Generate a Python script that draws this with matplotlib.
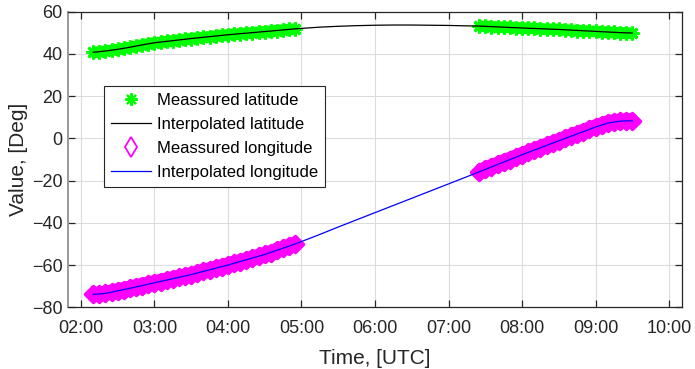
import numpy as np
import matplotlib
matplotlib.use("Agg")
import matplotlib.pyplot as plt
from matplotlib.lines import Line2D
from matplotlib.markers import MarkerStyle
from matplotlib.ticker import FuncFormatter, MultipleLocator

plt.rcParams['font.family'] = ['Liberation Sans', 'DejaVu Sans']

# ---- data (times in hours UTC) ----
seg1_start, seg1_step = 2 + 10/60, 5/60
seg2_start, seg2_step = 7 + 25/60, 5/60

lat_meas_1 = [40.7, 41.0, 41.3, 41.7, 42.1, 42.6, 43.1, 43.6, 44.2, 44.7,
              45.2, 45.5, 45.9, 46.2, 46.6, 46.9, 47.2, 47.5, 47.8, 48.1,
              48.4, 48.7, 49.0, 49.3, 49.5, 49.8, 50.0, 50.3, 50.5, 50.8,
              51.0, 51.3, 51.5, 51.8]
lon_meas_1 = [-73.9, -73.8, -73.4, -72.8, -72.2, -71.6, -71.0, -70.3, -69.7, -69.0,
              -68.4, -67.8, -67.1, -66.5, -65.8, -65.2, -64.5, -63.8, -63.0, -62.3,
              -61.5, -60.8, -60.0, -59.2, -58.4, -57.6, -56.7, -55.9, -55.0, -54.1,
              -53.1, -52.1, -51.1, -50.0]
lat_meas_2 = [53.1, 53.0, 52.9, 52.7, 52.6, 52.5, 52.4, 52.2, 52.1, 52.0,
              51.9, 51.7, 51.6, 51.5, 51.3, 51.2, 51.0, 50.9, 50.7, 50.6,
              50.4, 50.3, 50.1, 50.0, 49.9, 49.8]
lon_meas_2 = [-15.9, -14.7, -13.5, -12.4, -11.2, -10.1, -8.9, -7.8, -6.7, -5.6,
              -4.5, -3.4, -2.3, -1.2, -0.1, 1.0, 2.1, 3.2, 4.3, 5.3,
              6.3, 7.2, 7.8, 8.1, 8.2, 8.3]

interp_time_hm = ["02:10", "02:20", "02:30", "02:40", "02:50", "03:00", "03:30", "04:00",
                  "04:30", "04:55", "05:15", "05:30", "05:45", "06:00", "06:15", "06:30",
                  "06:45", "07:00", "07:15", "07:25", "08:00", "08:30", "09:00", "09:10",
                  "09:20", "09:30"]
lat_interp = [40.7, 41.3, 42.1, 43.1, 44.2, 45.2, 47.2, 49.0,
              50.5, 51.8, 52.6, 53.0, 53.3, 53.5, 53.6, 53.6,
              53.5, 53.4, 53.2, 53.1, 52.2, 51.5, 50.6, 50.3,
              50.0, 49.8]
lon_interp = [-73.9, -73.4, -72.2, -71.0, -69.7, -68.4, -64.5, -60.0,
              -55.0, -50.0, -45.5, -42.0, -38.6, -35.2, -31.8, -28.4,
              -25.0, -21.6, -18.2, -15.9, -7.8, -1.2, 5.3, 7.2,
              8.1, 8.3]

t1 = seg1_start + seg1_step * np.arange(len(lat_meas_1))
t2 = seg2_start + seg2_step * np.arange(len(lat_meas_2))
ti = np.array([int(s[:2]) + int(s[3:]) / 60 for s in interp_time_hm])

# ---- figure ----
fig = plt.figure(figsize=(6.95, 3.69), dpi=100)
ax = fig.add_axes([68/695, 1 - 307.3/369, 614/695, 295.8/369])

green = '#00ff00'
mag = '#ff00ff'
ast = (8, 2, 0)
dia = MarkerStyle('D', joinstyle='round')

for t, v in ((t1, lat_meas_1), (t2, lat_meas_2)):
    ax.plot(t, v, color=green, linewidth=8, solid_capstyle='butt', zorder=3)
    ax.plot(t, v, linestyle='none', marker=ast, color=green, markersize=10,
            markeredgewidth=2.0, zorder=3)
for t, v in ((t1, lon_meas_1), (t2, lon_meas_2)):
    ax.plot(t, v, color=mag, linewidth=11, solid_capstyle='butt', zorder=3)
    ax.plot(t, v, linestyle='none', marker=dia, markerfacecolor=mag,
            markeredgecolor=mag, markersize=8, markeredgewidth=2.5, zorder=3)
ax.plot(ti, lat_interp, color='black', linewidth=0.9, zorder=4)
ax.plot(ti, lon_interp, color='blue', linewidth=0.9, zorder=4)

ax.set_xlim(1 + 49.4/60, 10 + 10.6/60)
ax.set_ylim(-80, 60)
ax.xaxis.set_major_locator(MultipleLocator(1))
ax.yaxis.set_major_locator(MultipleLocator(20))
ax.xaxis.set_major_formatter(FuncFormatter(lambda x, p: f"{int(round(x)):02d}:00"))
ax.grid(True, color='#dcdcdc', linewidth=0.8)
ax.set_axisbelow(True)
ax.tick_params(direction='in', length=5, width=0.9, top=True, right=True,
               labelsize=13, labelcolor='#262626', colors='#262626', pad=4)
ax.tick_params(axis='x', pad=9)
for s in ('top', 'right', 'bottom'):
    ax.spines[s].set_color('#262626')
    ax.spines[s].set_linewidth(0.9)
ax.spines['left'].set_color('#999999')
ax.spines['left'].set_linewidth(1.4)

ax.set_xlabel('Time, [UTC]', fontsize=15, color='#262626', labelpad=9)
ax.set_ylabel('Value, [Deg]', fontsize=15, color='#262626', labelpad=3)

handles = [
    Line2D([], [], linestyle='none', marker=ast, color=green, markersize=9, markeredgewidth=1.5),
    Line2D([], [], color='black', linewidth=0.9),
    Line2D([], [], linestyle='none', marker='d', markerfacecolor='none',
           markeredgecolor=mag, markersize=10, markeredgewidth=1.3),
    Line2D([], [], color='blue', linewidth=0.9),
]
labels = ['Meassured latitude', 'Interpolated latitude', 'Meassured longitude',
          'Interpolated longitude']
leg = ax.legend(handles, labels, loc='upper left', bbox_to_anchor=(36/614, 221.3/295.8),
                borderaxespad=0, fontsize=12, frameon=True, fancybox=False,
                edgecolor='#262626', framealpha=1, labelspacing=0.55,
                handlelength=2.4, handletextpad=0.4, borderpad=0.4)
leg.get_frame().set_linewidth(0.8)

fig.savefig('out.png', dpi=100)
